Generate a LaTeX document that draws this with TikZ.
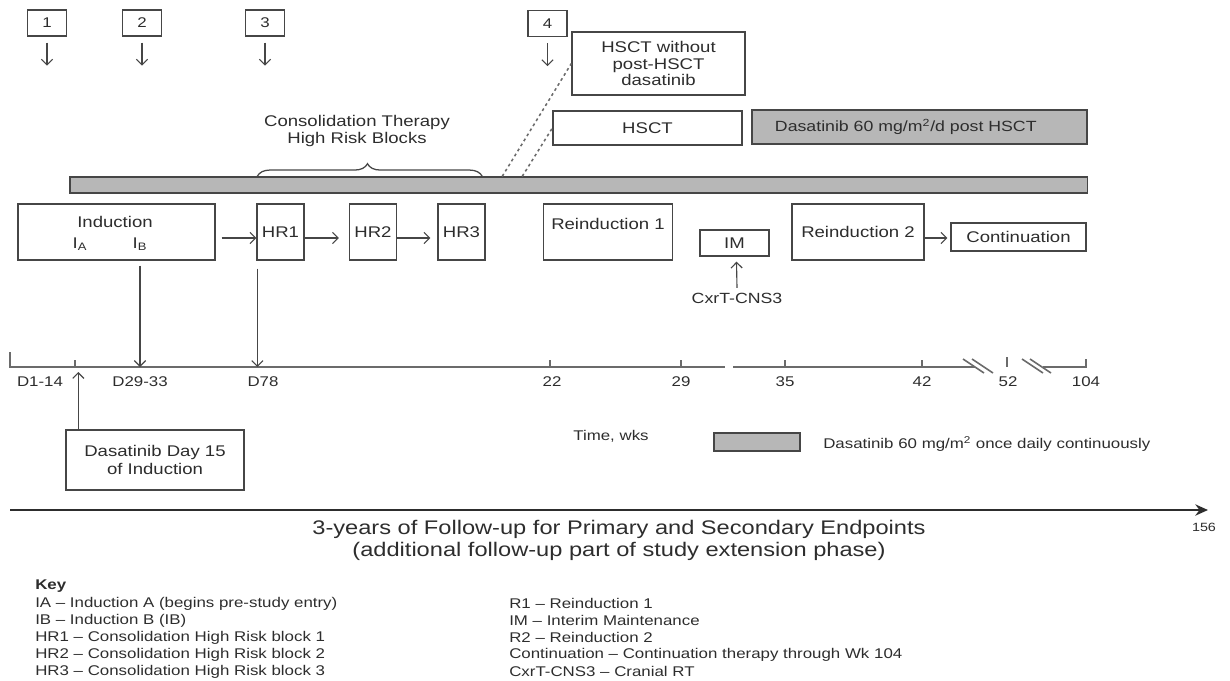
\documentclass[tikz,border=0pt]{standalone}
\usepackage{fontspec}
\setmainfont{Liberation Sans}[FakeStretch=1.2]
\usetikzlibrary{positioning,calc,arrows.meta,decorations.pathreplacing}
\definecolor{lineGray}{RGB}{70,70,70}
\definecolor{barGray}{RGB}{183,183,183}
\definecolor{txtGray}{RGB}{45,45,45}
\tikzset{
    stagebox/.style={
        draw=lineGray,
        line width=0.9pt,
        fill=white,
        font=\fontsize{11}{11.5}\selectfont,
        inner sep=0pt,
        align=center
    },
    numbox/.style={
        draw=lineGray,
        line width=0.9pt,
        minimum width=0.975cm,
        minimum height=0.65cm,
        font=\fontsize{10}{12}\selectfont
    },
    dasabar/.style={
        draw=lineGray,
        line width=0.9pt,
        fill=barGray,
        inner sep=0pt
    },
    ptr/.style={
        -{Straight Barb[length=4pt,width=8pt]},
        line width=0.8pt,
        draw=lineGray
    },
    axisline/.style={line width=1.1pt, draw=lineGray!80},
    linkdots/.style={line width=1.1pt, draw=lineGray!80, dash pattern=on 2pt off 2.2pt},
    ticklab/.style={font=\fontsize{10}{12}\selectfont},
    keytext/.style={font=\fontsize{10}{11}\selectfont, anchor=west, inner sep=0pt}
}

\begin{document}
\begin{tikzpicture}[x=0.025cm, y=-0.025cm, text=txtGray]
    \useasboundingbox (0,0) rectangle (1230,680);

    % numbered time points
    \node[numbox] (n1) at (47,23) {1};
    \node[numbox] (n2) at (142,23) {2};
    \node[numbox] (n3) at (265,23) {3};
    \node[numbox] (n4) at (547.5,23.5) {4};
    \foreach \n in {n1,n2,n3,n4}
        \draw[ptr] ($(\n.south)+(0,6)$) -- ++(0,23);

    % transplant branch
    \node[stagebox, minimum width=4.325cm, minimum height=1.575cm] (hsctno) at (658.5,63.5) {HSCT without\\post-HSCT\\dasatinib};
    \node[stagebox, minimum width=4.725cm, minimum height=0.85cm] (hsct) at (647.5,128) {HSCT};
    \node[stagebox, fill=barGray, font=\fontsize{10.5}{12}\selectfont, text width=7.225cm, inner xsep=0.575cm, minimum height=0.85cm, align=left] (dpost) at (919.5,127) {Dasatinib 60 mg/m\textsuperscript{2}/d post HSCT};

    % continuous dasatinib bar
    \node[dasabar, minimum width=25.425cm, minimum height=0.4cm] (bar) at (578.5,185) {};
    \draw[lineGray, line width=0.9pt, decorate, decoration={brace, amplitude=9pt, aspect=0.49}]
        ($(bar.north west)+(188,0)$) -- ($(bar.north west)+(413,0)$);
    \node[font=\fontsize{11}{12}\selectfont, align=center] (consol) at (357,131) {Consolidation Therapy\\High Risk Blocks};
    \coordinate (dotA) at ($(bar.north west)+(433,0)$);
    \coordinate (dotB) at ($(bar.north west)+(453,0)$);
    \draw[linkdots] (dotA) -- (hsctno.west);
    \draw[linkdots] (dotB) -- (hsct.west);

    % treatment blocks
    \node[stagebox, minimum width=4.925cm, minimum height=1.4cm] (ind) at (116.5,232) {};
    \node[font=\fontsize{11}{12}\selectfont] (indlab) at (115,222) {Induction};
    \node[font=\fontsize{11}{12}\selectfont] (ia) at (80,244) {I\textsubscript{A}};
    \node[font=\fontsize{11}{12}\selectfont] (ib) at (140,244) {I\textsubscript{B}};
    \node[stagebox, minimum width=1.175cm, minimum height=1.4cm] (hr1) at (280.5,232) {HR1};
    \node[stagebox, minimum width=1.175cm, minimum height=1.4cm] (hr2) at (373,232) {HR2};
    \node[stagebox, minimum width=1.175cm, minimum height=1.4cm] (hr3) at (461.5,232) {HR3};
    \node[stagebox, minimum width=3.225cm, minimum height=1.4cm] (r1) at (608,232) {Reinduction 1\\\mbox{}};
    \node[stagebox, minimum width=1.725cm, minimum height=0.65cm] (im) at (734.5,243) {IM};
    \node[stagebox, minimum width=3.3cm, minimum height=1.4cm] (r2) at (858,232) {Reinduction 2};
    \node[stagebox, minimum width=3.375cm, minimum height=0.7cm] (cont) at (1018.5,237) {Continuation};
    \node[font=\fontsize{10.5}{12}\selectfont] (cxrt) at (737,298) {CxrT-CNS3};

    \draw[ptr] ($(ind.east)+(6,6)$) -- ($(hr1.west)+(0,6)$);
    \draw[ptr] ($(hr1.east)+(0,6)$) -- ($(hr2.west)+(-10,6)$);
    \draw[ptr] ($(hr2.east)+(0,6)$) -- ($(hr3.west)+(-7,6)$);
    \draw[ptr] ($(r2.east)+(0,6)$) -- ($(cont.west)+(-3,1)$);
    \draw[ptr] (cxrt.north) -- ($(im.south)+(2,5)$);

    % time axis
    \coordinate (ax0) at (10,367);
    \coordinate (gapL) at (725,367);
    \coordinate (gapR) at (733,367);
    \coordinate (brkL) at (975,367);
    \coordinate (brkR) at (1043,367);
    \coordinate (axEnd) at (1086,367);
    \draw[axisline] (10,352) -- (ax0) -- (gapL);
    \draw[axisline] (gapR) -- (brkL);
    \draw[axisline] (brkR) -- (axEnd) -- (1086,359);
    \draw[axisline] (1007,357) -- (1007,367);
    \foreach \x in {75,550,681,785,922}
        \draw[axisline] (\x,360) -- (\x,367);
    \foreach \bx in {963,972,1022,1030}
        \draw[axisline] (\bx,359) -- ++(21,14);
    \foreach \x/\lab in {40/D1-14, 140/D29-33, 263/D78, 552/22, 681/29, 785/35, 922/42, 1008/52, 1086/104}
        \node[ticklab] (tl\x) at (\x,382) {\lab};

    \coordinate (ibtop) at ($(ib |- ind.south)+(0,5)$);
    \coordinate (hrtop) at ($(hr1.south west)+(1,8)$);
    \draw[ptr] (ibtop) -- (ibtop |- ax0);
    \draw[ptr] (hrtop) -- (hrtop |- ax0);

    % dasatinib start and legend
    \node[stagebox, minimum width=4.45cm, minimum height=1.5cm, font=\fontsize{11}{13}\selectfont] (day15) at (155,460) {Dasatinib Day 15\\of Induction};
    \coordinate (d15) at ($(day15.north west)+(13,0)$);
    \draw[ptr] (d15) -- ($(d15 |- ax0)+(0,5)$);
    \node[font=\fontsize{10}{12}\selectfont] (timelab) at (611,436) {Time, wks};
    \node[dasabar, minimum width=2.15cm, minimum height=0.45cm] (legbox) at (757,442) {};
    \node[font=\fontsize{10}{12}\selectfont, anchor=west, inner sep=0pt] (legtxt) at (823,444) {Dasatinib 60 mg/m\textsuperscript{2} once daily continuously};

    % follow-up arrow
    \coordinate (fu0) at (10,510);
    \coordinate (fu1) at (1208,510);
    \draw[line width=1.6pt, draw=txtGray, -{Stealth[length=9pt,width=8pt]}] (fu0) -- (fu1);
    \node[font=\fontsize{8.5}{10}\selectfont] (wk156) at (1204,527) {156};
    \node[font=\fontsize{14}{15.2}\selectfont, align=center] (futitle) at (619,540.5) {3-years of Follow-up for Primary and Secondary Endpoints\\(additional follow-up part of study extension phase)};

    % key
    \node[keytext, font=\bfseries\fontsize{10}{11}\selectfont] (keyhead) at (35,586) {Key};
    \foreach \txt [count=\i] in {IA -- Induction A (begins pre-study entry), IB -- Induction B (IB), HR1 -- Consolidation High Risk block 1, HR2 -- Consolidation High Risk block 2, HR3 -- Consolidation High Risk block 3}
        \node[keytext] (keyL\i) at (35,{586.5+17*\i}) {\txt};
    \foreach \txt [count=\i] in {R1 -- Reinduction 1, IM -- Interim Maintenance, R2 -- Reinduction 2, Continuation -- Continuation therapy through Wk 104, CxrT-CNS3 -- Cranial RT}
        \node[keytext] (keyR\i) at (509,{586.5+17*\i}) {\txt};
\end{tikzpicture}
\end{document}
